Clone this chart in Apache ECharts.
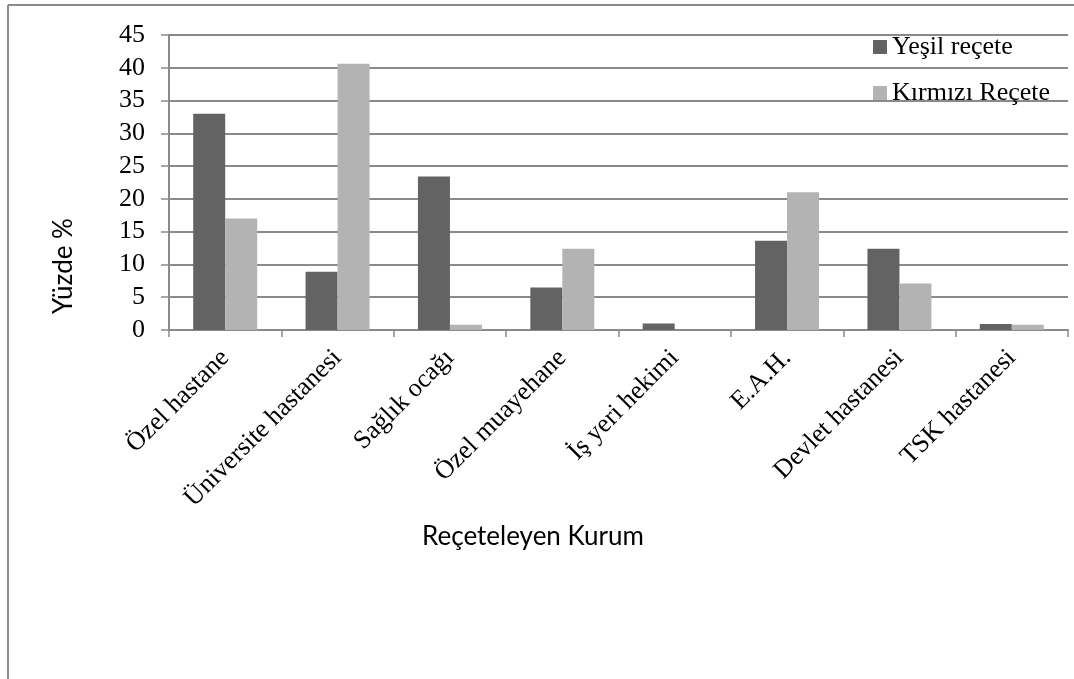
<!DOCTYPE html>
<html>
<head>
<meta charset="utf-8">
<style>
  html, body { margin: 0; padding: 0; background: #ffffff; }
  #chart { width: 1074px; height: 679px; }
</style>
<script src="https://cdn.jsdelivr.net/npm/echarts@6/dist/echarts.min.js"></script>
</head>
<body>
<div id="chart"></div>
<script>
// Prescribing institutions
const categories = [
  'Özel hastane', 'Üniversite hastanesi', 'Sağlık ocağı', 'Özel muayehane',
  'İş yeri hekimi', 'E.A.H.', 'Devlet hastanesi', 'TSK hastanesi'
];
// Percentage of green prescriptions per institution
const yesilRecete = [33.0, 8.9, 23.4, 6.5, 1.0, 13.6, 12.4, 0.9];
// Percentage of red prescriptions per institution
const kirmiziRecete = [17.0, 40.6, 0.8, 12.4, 0, 21.0, 7.1, 0.8];
// Value axis ticks
const yTicks = [0, 5, 10, 15, 20, 25, 30, 35, 40, 45];

const serif = '"Liberation Serif", "Times New Roman", serif';
const sans = 'Lato, "Open Sans", sans-serif';
const lineGray = '#8a8a8a';

const chart = echarts.init(document.getElementById('chart'), null, { renderer: 'canvas' });

chart.setOption({
  animation: false,
  backgroundColor: '#ffffff',
  grid: { left: 169, right: 6, top: 35, bottom: 349, containLabel: false },
  legend: {
    orient: 'vertical',
    left: 868,
    top: 29,
    itemWidth: 14,
    itemHeight: 14,
    itemGap: 20,
    icon: 'rect',
    selectedMode: false,
    textStyle: { fontFamily: serif, fontSize: 26, color: '#000', lineHeight: 26 },
    data: ['Yeşil reçete', 'Kırmızı Reçete']
  },
  xAxis: {
    type: 'category',
    data: categories,
    boundaryGap: true,
    axisLine: { show: true, lineStyle: { color: lineGray, width: 2 } },
    axisTick: { show: true, length: 7, alignWithLabel: false, lineStyle: { color: lineGray, width: 1.5 } },
    axisLabel: {
      rotate: 45,
      interval: 0,
      margin: 24,
      fontFamily: serif,
      fontSize: 26,
      color: '#000'
    },
    splitLine: { show: false }
  },
  yAxis: {
    type: 'value',
    min: yTicks[0],
    max: yTicks[yTicks.length - 1],
    interval: 5,
    axisLine: { show: true, lineStyle: { color: lineGray, width: 2 } },
    axisTick: { show: true, length: 8, lineStyle: { color: lineGray, width: 1.5 } },
    axisLabel: { margin: 24, fontFamily: serif, fontSize: 26, color: '#000' },
    splitLine: { show: true, lineStyle: { color: lineGray, width: 2 } }
  },
  series: [
    {
      name: 'Yeşil reçete',
      type: 'bar',
      data: yesilRecete,
      barWidth: 32,
      barGap: '0%',
      itemStyle: { color: '#636363' }
    },
    {
      name: 'Kırmızı Reçete',
      type: 'bar',
      data: kirmiziRecete,
      barWidth: 32,
      barGap: '0%',
      itemStyle: { color: '#b3b3b3' }
    }
  ],
  graphic: [
    // frame along the top and left edges
    { type: 'line', shape: { x1: 8, y1: 5, x2: 1074, y2: 5 }, style: { stroke: lineGray, lineWidth: 2 } },
    { type: 'line', shape: { x1: 8, y1: 5, x2: 8, y2: 679 }, style: { stroke: lineGray, lineWidth: 2 } },
    // axis titles
    {
      type: 'text',
      x: 64, y: 266,
      rotation: Math.PI / 2,
      style: { text: 'Yüzde %', font: '26px ' + sans, fill: '#000', align: 'center', verticalAlign: 'middle' }
    },
    {
      type: 'text',
      x: 533, y: 537,
      style: { text: 'Reçeteleyen Kurum', font: '26px ' + sans, fill: '#000', align: 'center', verticalAlign: 'middle' }
    }
  ]
});
</script>
</body>
</html>
